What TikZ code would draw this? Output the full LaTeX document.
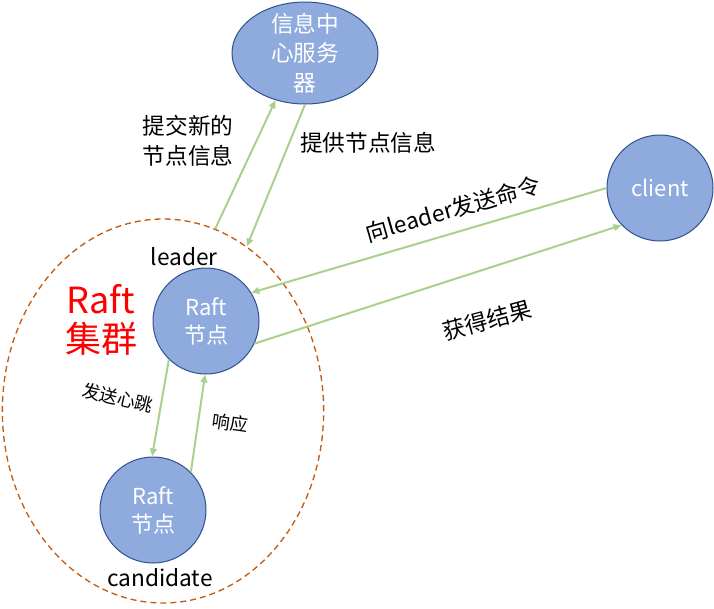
\documentclass[tikz,border=0pt]{standalone}
\usepackage{fontspec}
\setmainfont{Noto Sans CJK SC}
\usetikzlibrary{shapes.geometric, arrows.meta}
\definecolor{nodeblue}{HTML}{8FAADC}
\definecolor{nodeedge}{HTML}{2F528F}
\definecolor{arrgreen}{HTML}{A9D18E}
\definecolor{clusterline}{HTML}{C55A11}

\begin{document}
\begin{tikzpicture}[
  x=0.75pt, y=-0.75pt,
  raft/.style={
    circle, draw=nodeedge, fill=nodeblue, line width=0.75pt,
    minimum size=79.5pt, inner sep=0pt, align=center,
    text=white, font=\fontsize{16.5}{21}\selectfont
  },
  center/.style={
    ellipse, draw=nodeedge, fill=nodeblue, line width=0.75pt,
    minimum width=109.5pt, minimum height=76.5pt, inner sep=0pt
  },
  cluster/.style={
    ellipse, draw=clusterline, line width=1pt, dash pattern=on 4.5pt off 3pt,
    minimum width=241pt, minimum height=288pt, inner sep=0pt
  },
  lbl/.style={align=center, font=\fontsize{17}{22.5}\selectfont},
  smalllbl/.style={font=\fontsize{13.5}{16}\selectfont},
  arr/.style={-{Triangle[length=6pt,width=5pt]}, draw=arrgreen, line width=1.5pt}
]
  \useasboundingbox (0,0) rectangle (714,608);

  % Nodes
  \node[cluster] (cluster)   at (163,411) {};
  \node[center]  (server)    at (305,53)  {};
  \node[align=center, text=white, font=\fontsize{17}{22}\selectfont]
    (servertext) at (server) {信息中\\心服务\\器};
  \node[raft]    (client)    at (660,188) {client};
  \node[raft]    (leader)    at (206,321) {Raft\\节点};
  \node[raft]    (candidate) at (153,510) {Raft\\节点};

  % Arrows
  \draw[arr] (cluster.74.8)  -- (server.-122.5);
  \draw[arr] (server.south)  -- (cluster.63.7);
  \draw[arr] (client.180)    -- (leader.32);
  \draw[arr] (leader.-25)    -- (client.-136);
  \draw[arr] (leader.-134)   -- (candidate.91);
  \draw[arr] (candidate.45)  -- (leader.-91);

  % Labels
  \node[lbl] (submit)  at (188,141) {提交新的\\节点信息};
  \node[lbl] (provide) at (368,143) {提供节点信息};
  \node[lbl, rotate=16] (command) at (453,209) {向leader发送命令};
  \node[lbl, rotate=15] (result)  at (487,320) {获得结果};
  \node[smalllbl, rotate=-13] (beat)  at (118,398) {发送心跳};
  \node[smalllbl, rotate=-8]  (reply) at (230,423) {响应};
  \node[lbl] (leadertag) at (184,257) {leader};
  \node[lbl] (candtag)   at (160,578) {candidate};
  \node[align=center, text=red, font=\fontsize{27}{29}\selectfont]
    (clustername) at (101,320) {Raft\\集群};
\end{tikzpicture}
\end{document}
